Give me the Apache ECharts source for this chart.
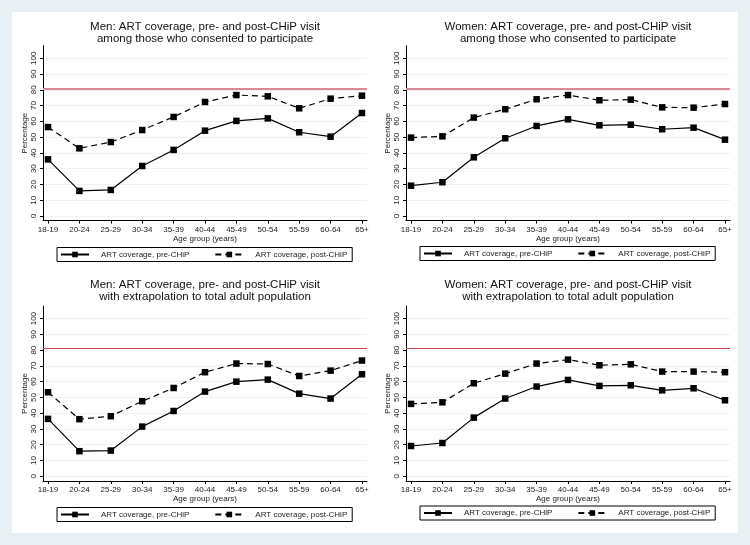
<!DOCTYPE html>
<html>
<head>
<meta charset="utf-8">
<script src="https://cdn.jsdelivr.net/npm/echarts@6/dist/echarts.min.js"></script>
<style>
  html, body { margin: 0; padding: 0; background: #e9eff2; }
  #chart { width: 750px; height: 545px; }
</style>
</head>
<body>
<div id="chart"></div>
<script>
// age groups on the x axis
var ageGroups = ['18-19', '20-24', '25-29', '30-34', '35-39', '40-44', '45-49', '50-54', '55-59', '60-64', '65+'];
var yTicks = [0, 10, 20, 30, 40, 50, 60, 70, 80, 90, 100];
var target = 81; // 90-90 target line

// men, among those who consented
var menConsentPre = [35.9, 15.9, 16.5, 31.7, 41.9, 54.1, 60.3, 61.9, 53.1, 50.3, 65.3];
var menConsentPost = [56.4, 42.9, 46.9, 54.5, 62.8, 72.3, 76.7, 75.9, 68.3, 74.4, 76.3];
// women, among those who consented
var womenConsentPre = [19.2, 21.4, 37.2, 49.3, 57.1, 61.3, 57.5, 57.9, 55.0, 56.0, 48.4];
var womenConsentPost = [49.7, 50.5, 62.4, 67.7, 74.0, 76.7, 73.4, 73.8, 68.9, 68.7, 71.0];
// men, extrapolated to total adult population
var menTotalPre = [36.4, 15.9, 16.3, 31.5, 41.4, 53.7, 60.0, 61.3, 52.4, 49.3, 64.7];
var menTotalPost = [53.3, 36.2, 38.1, 47.6, 56.0, 66.0, 71.5, 71.2, 63.6, 67.0, 73.4];
// women, extrapolated to total adult population
var womenTotalPre = [19.2, 21.1, 37.2, 49.3, 56.9, 61.1, 57.3, 57.7, 54.5, 55.8, 48.2];
var womenTotalPost = [45.9, 46.9, 59.0, 65.1, 71.5, 74.0, 70.4, 71.0, 66.4, 66.4, 66.0];

var preName = 'ART coverage, pre-CHiP';
var postName = 'ART coverage, post-CHiP';

var panels = [
  {title: 'Men: ART coverage, pre- and post-CHiP visit\namong those who consented to participate', pre: menConsentPre, post: menConsentPost, left: 43, top: 45.7, titleTop: 20.5, legendTop: 247.5, red: '#d98a96', redWidth: 2},
  {title: 'Women: ART coverage, pre- and post-CHiP visit\namong those who consented to participate', pre: womenConsentPre, post: womenConsentPost, left: 406, top: 45.7, titleTop: 20.5, legendTop: 246.5, red: '#d98a96', redWidth: 2},
  {title: 'Men: ART coverage, pre- and post-CHiP visit\nwith extrapolation to total adult population', pre: menTotalPre, post: menTotalPost, left: 43, top: 306, titleTop: 278.5, legendTop: 507.5, red: '#c9404f', redWidth: 1},
  {title: 'Women: ART coverage, pre- and post-CHiP visit\nwith extrapolation to total adult population', pre: womenTotalPre, post: womenTotalPost, left: 406, top: 306, titleTop: 278.5, legendTop: 506, red: '#c9404f', redWidth: 1}
];

var fontFamily = 'Liberation Sans, Arial, sans-serif';
var plotW = 324, plotH = 175;

function toPoints (arr) {
  return ageGroups.map(function (g, i) { return [i, arr[i]]; });
}

var option = {
  backgroundColor: '#e9eff2',
  animation: false,
  textStyle: {fontFamily: fontFamily},
  graphic: [{type: 'rect', shape: {x: 12, y: 12, width: 726, height: 521}, style: {fill: '#ffffff'}, z: -10}],
  title: [], grid: [], xAxis: [], yAxis: [], legend: [], series: []
};

panels.forEach(function (p, k) {
  option.title.push({
    text: p.title,
    left: p.left + plotW / 2,
    top: p.titleTop,
    padding: 0,
    textAlign: 'center',
    textStyle: {fontSize: 11.5, fontWeight: 'normal', color: '#111', lineHeight: 12.5, fontFamily: fontFamily}
  });
  option.grid.push({left: p.left, top: p.top, width: plotW, height: plotH});
  option.xAxis.push({
    type: 'value', gridIndex: k, min: -0.16, max: 10.16,
    name: 'Age group (years)', nameLocation: 'middle', nameGap: 14,
    nameTextStyle: {fontSize: 8, color: '#222'},
    axisLine: {show: true, onZero: false, lineStyle: {color: '#000', width: 1}},
    axisTick: {show: true, length: 3, lineStyle: {color: '#000'}, customValues: ageGroups.map(function (g, i) { return i; })},
    axisLabel: {fontSize: 8, color: '#222', margin: 5, customValues: ageGroups.map(function (g, i) { return i; }),
      formatter: function (v) { return ageGroups[Math.round(v)]; }},
    splitLine: {show: false}
  });
  option.yAxis.push({
    type: 'value', gridIndex: k, min: -3, max: 108,
    name: 'Percentage', nameLocation: 'middle', nameGap: 14,
    nameTextStyle: {fontSize: 8, color: '#222'},
    axisLine: {show: true, onZero: false, lineStyle: {color: '#000', width: 1}},
    axisTick: {show: true, length: 3, lineStyle: {color: '#000'}, customValues: yTicks},
    axisLabel: {fontSize: 8, color: '#222', rotate: 90, margin: 5, customValues: yTicks},
    splitLine: {show: true, lineStyle: {color: '#edf1f3', width: 1}}
  });
  option.legend.push({
    data: [preName, postName],
    left: p.left + 14, top: p.legendTop,
    orient: 'horizontal',
    itemWidth: 28, itemHeight: 7, itemGap: 25,
    padding: [3, 5, 3, 3],
    borderColor: '#000', borderWidth: 1, borderRadius: 0,
    textStyle: {fontSize: 8, color: '#222', padding: [0, 0, 0, 7]},
    selectedMode: false
  });
  option.series.push({
    name: preName, type: 'line', xAxisIndex: k, yAxisIndex: k,
    data: toPoints(p.pre),
    symbol: 'rect', symbolSize: 6.5,
    itemStyle: {color: '#000'},
    lineStyle: {color: '#000', width: 1.2, type: 'solid'},
    markLine: {
      silent: true, symbol: 'none', label: {show: false},
      lineStyle: {color: p.red, width: p.redWidth, type: 'solid'},
      data: [{yAxis: target}]
    },
    z: 3
  });
  option.series.push({
    name: postName, type: 'line', xAxisIndex: k, yAxisIndex: k,
    data: toPoints(p.post),
    symbol: 'rect', symbolSize: 6.5,
    itemStyle: {color: '#000'},
    lineStyle: {color: '#000', width: 1.2, type: [6, 4]},
    z: 3
  });
});

var chart = echarts.init(document.getElementById('chart'));
chart.setOption(option);
</script>
</body>
</html>
